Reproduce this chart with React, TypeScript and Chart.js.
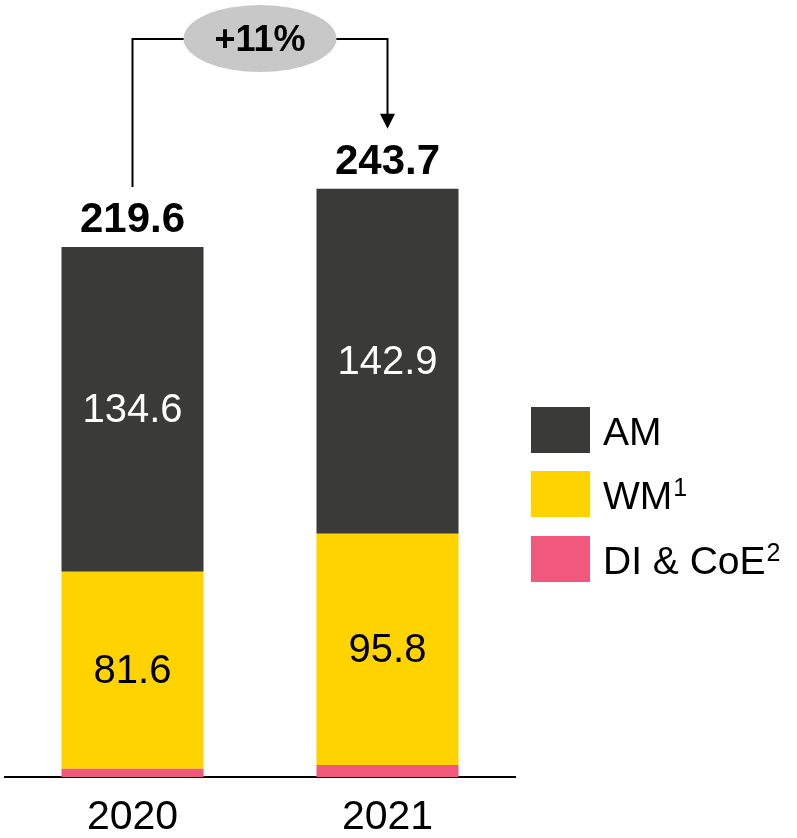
import React, { useEffect, useRef } from "react";
import { Chart, registerables } from "chart.js";

Chart.register(...registerables);

const categories = ["2020", "2021"];
const diCoe = [3.4, 5.0];
const wm = [81.6, 95.8];
const am = [134.6, 142.9];
const totals = [219.6, 243.7];
const growthLabel = "+11%";
const legendItems = [
  { text: "AM", sup: "" },
  { text: "WM", sup: "1" },
  { text: "DI & CoE", sup: "2" },
];

const COLORS = { am: "#3A3B39", wm: "#FFD300", di: "#F0587C" };
const FONT = "'Liberation Sans', Arial, Helvetica, sans-serif";

const overlay = {
  id: "overlay",
  afterDatasetsDraw(chart: any) {
    const ctx = chart.ctx as CanvasRenderingContext2D;
    const x = chart.scales.x;
    const y = chart.scales.y;
    ctx.save();
    // inside value labels
    const inside = [
      { data: wm, color: "#000000", dsIndex: 1 },
      { data: am, color: "#FFFFFF", dsIndex: 2 },
    ];
    ctx.font = `40px ${FONT}`;
    ctx.textAlign = "center";
    ctx.textBaseline = "middle";
    inside.forEach((s) => {
      const meta = chart.getDatasetMeta(s.dsIndex);
      meta.data.forEach((bar: any, i: number) => {
        const cy = (bar.y + bar.base) / 2;
        ctx.fillStyle = s.color;
        ctx.fillText(s.data[i].toFixed(1), bar.x, cy + 2);
      });
    });
    // totals
    ctx.font = `bold 42px ${FONT}`;
    ctx.fillStyle = "#000000";
    ctx.textBaseline = "alphabetic";
    totals.forEach((t, i) => {
      const cx = x.getPixelForValue(i);
      ctx.fillText(t.toFixed(1), cx, y.getPixelForValue(t) - 15);
    });
    // connector
    const x0 = x.getPixelForValue(0);
    const x1 = x.getPixelForValue(1);
    const yTop = 39;
    const yL = y.getPixelForValue(totals[0]) - 60;
    const yR = y.getPixelForValue(totals[1]) - 60;
    ctx.strokeStyle = "#000000";
    ctx.lineWidth = 2;
    ctx.beginPath();
    ctx.moveTo(x0, yL);
    ctx.lineTo(x0, yTop);
    ctx.lineTo(x1, yTop);
    ctx.lineTo(x1, yR - 14);
    ctx.stroke();
    ctx.fillStyle = "#000000";
    ctx.beginPath();
    ctx.moveTo(x1 - 7.5, yR - 15);
    ctx.lineTo(x1 + 7.5, yR - 15);
    ctx.lineTo(x1, yR);
    ctx.closePath();
    ctx.fill();
    // ellipse
    const ex = (x0 + x1) / 2;
    ctx.fillStyle = "#C8C8C8";
    ctx.beginPath();
    ctx.ellipse(ex, 38.5, 76.5, 33.5, 0, 0, Math.PI * 2);
    ctx.fill();
    ctx.fillStyle = "#000000";
    ctx.font = `bold 36px ${FONT}`;
    ctx.textBaseline = "middle";
    ctx.fillText(growthLabel, ex, 41);
    // legend
    const boxColors = [COLORS.am, COLORS.wm, COLORS.di];
    const boxTops = [407, 471, 536];
    ctx.textAlign = "left";
    legendItems.forEach((it, i) => {
      ctx.fillStyle = boxColors[i];
      ctx.fillRect(531, boxTops[i], 59, 46);
      const cy = boxTops[i] + 23;
      ctx.fillStyle = "#000000";
      ctx.font = `39px ${FONT}`;
      ctx.textBaseline = "middle";
      ctx.fillText(it.text, 603, cy + 4);
      if (it.sup) {
        const w = ctx.measureText(it.text).width;
        ctx.font = `25px ${FONT}`;
        ctx.textBaseline = "top";
        ctx.fillText(it.sup, 603 + w + 1, cy - 17);
      }
    });
    ctx.restore();
  },
};

export default function App() {
  const ref = useRef<HTMLCanvasElement>(null);
  useEffect(() => {
    document.body.style.margin = "0";
    const chart = new Chart(ref.current!, {
      type: "bar",
      data: {
        labels: categories,
        datasets: [
          { label: "DI & CoE", data: diCoe, backgroundColor: COLORS.di },
          { label: "WM", data: wm, backgroundColor: COLORS.wm },
          { label: "AM", data: am, backgroundColor: COLORS.am },
        ],
      },
      options: {
        animation: false,
        responsive: false,
        maintainAspectRatio: false,
        layout: { padding: { left: 5, right: 282, top: 53, bottom: -20 } },
        datasets: { bar: { categoryPercentage: 0.557, barPercentage: 1 } },
        plugins: { legend: { display: false }, tooltip: { enabled: false } },
        scales: {
          x: {
            stacked: true,
            grid: { display: false, drawTicks: false },
            border: { display: true, color: "#000000", width: 2 },
            ticks: {
              color: "#000000",
              padding: 20,
              font: { family: FONT, size: 41, lineHeight: 1 },
            },
          },
          y: {
            stacked: true,
            display: false,
            min: 0,
            max: 300,
          },
        },
      },
      plugins: [overlay],
    });
    return () => chart.destroy();
  }, []);
  return <canvas ref={ref} width={797} height={838} style={{ display: "block" }} />;
}
